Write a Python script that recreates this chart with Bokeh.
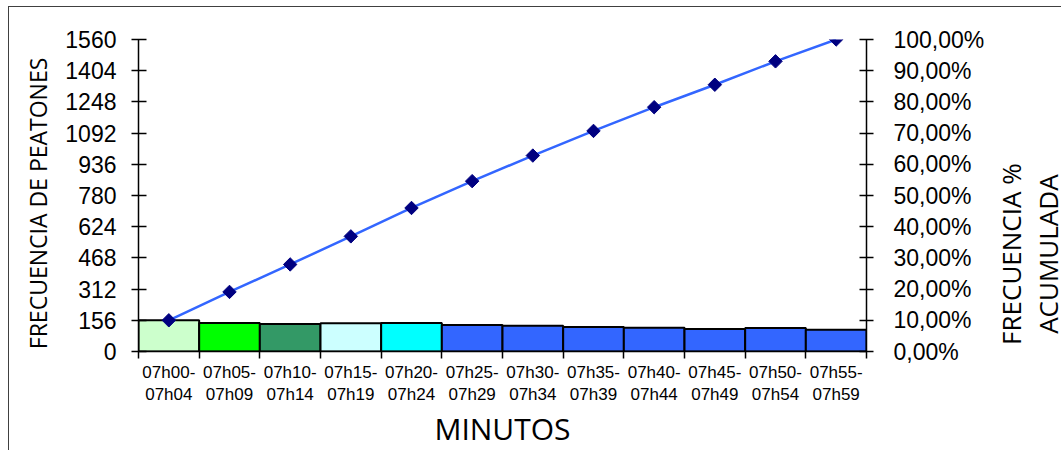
import math
import numpy as np
from bokeh.plotting import figure
from bokeh.layouts import row
from bokeh.models import Range1d, LinearAxis, FixedTicker
from bokeh.core.properties import value
from bokeh.embed import file_html
from bokeh.resources import INLINE

categories = ["07h00-\n07h04", "07h05-\n07h09", "07h10-\n07h14", "07h15-\n07h19",
              "07h20-\n07h24", "07h25-\n07h29", "07h30-\n07h34", "07h35-\n07h39",
              "07h40-\n07h44", "07h45-\n07h49", "07h50-\n07h54", "07h55-\n07h59"]
frecuencia = [156, 142, 137, 141, 142, 133, 129, 123, 119, 112, 117, 109]
acumulada_pct = [10.0, 19.1, 27.9, 36.9, 46.0, 54.6, 62.8, 70.7, 78.3, 85.5, 93.0, 100.0]
bar_colors = ["#CCFFCC", "#00FF00", "#339966", "#CCFFFF", "#00FFFF", "#3366FF",
              "#3366FF", "#3366FF", "#3366FF", "#3366FF", "#3366FF", "#3366FF"]
left_ticks = [0, 156, 312, 468, 624, 780, 936, 1092, 1248, 1404, 1560]
right_ticks = [0, 10, 20, 30, 40, 50, 60, 70, 80, 90, 100]
right_labels = ["0,00%", "10,00%", "20,00%", "30,00%", "40,00%", "50,00%",
                "60,00%", "70,00%", "80,00%", "90,00%", "100,00%"]
left_title = "FRECUENCIA DE PEATONES"
right_title = ["FRECUENCIA %", "ACUMULADA"]
x_title = "MINUTOS"

n = len(categories)
xc = np.arange(n) + 0.5
H = 443
TOP, FH, BOT = 32, 312, 99

tick_font = "Liberation Sans"
title_font = "Open Sans"

p = figure(width=945, height=H, output_backend="svg", toolbar_location=None,
           x_range=Range1d(0, n), y_range=Range1d(0, 1560),
           min_border_left=83, min_border_top=TOP, min_border_right=134, min_border_bottom=BOT,
           frame_width=728, frame_height=FH)
p.outline_line_color = None
p.background_fill_color = "white"
p.border_fill_color = "white"
p.xgrid.visible = False
p.ygrid.ticker = FixedTicker(ticks=[1560])
p.ygrid.grid_line_color = "#808080"
p.ygrid.grid_line_width = 2

p.extra_y_ranges = {"pct": Range1d(0, 100)}

p.vbar(x=xc, top=frecuencia, width=1.0, fill_color=bar_colors,
       line_color="black", line_width=2)
p.line(x=xc, y=acumulada_pct, y_range_name="pct", line_color="#3366FF", line_width=2.5)
p.scatter(x=xc, y=acumulada_pct, y_range_name="pct", marker="square", angle=math.pi / 4,
          size=9.5, fill_color="#000080", line_color="#000080")

# x axis: ticks at boundaries (no labels), labels at centers on a second axis
xa = p.xaxis[0]
xa.ticker = FixedTicker(ticks=list(range(n + 1)))
xa.major_label_overrides = {i: " " for i in range(n + 1)}
xa.major_label_text_font_size = "1px"
xa.major_label_standoff = 0
xa.major_tick_out = 7
xa.major_tick_in = 0
xa.minor_tick_line_color = None
xa.axis_line_color = "black"
xa.axis_line_width = 1.5
xa.major_tick_line_width = 1.5

xl = LinearAxis(ticker=FixedTicker(ticks=list(xc)),
                major_label_overrides={float(v): c for v, c in zip(xc, categories)})
xl.axis_line_color = None
xl.major_tick_line_color = None
xl.minor_tick_line_color = None
xl.major_tick_out = 0
xl.major_tick_in = 0
xl.major_label_text_font = tick_font
xl.major_label_text_font_size = "17px"
xl.major_label_text_color = "black"
xl.major_label_standoff = 0
xl.axis_label = x_title
xl.axis_label_text_font = title_font
xl.axis_label_text_font_style = "normal"
xl.axis_label_text_font_size = "30px"
xl.axis_label_text_color = "black"
xl.axis_label_standoff = 1
p.add_layout(xl, "below")

ya = p.yaxis[0]
ya.ticker = FixedTicker(ticks=left_ticks)
ya.major_label_text_font = tick_font
ya.major_label_text_font_size = "23px"
ya.major_label_text_color = "black"
ya.major_tick_out = 7
ya.major_tick_in = 8
ya.minor_tick_line_color = None
ya.axis_line_width = 1.5
ya.major_tick_line_width = 1.5
ya.major_label_standoff = 15

yr = LinearAxis(y_range_name="pct", ticker=FixedTicker(ticks=right_ticks),
                major_label_overrides={float(t): s for t, s in zip(right_ticks, right_labels)})
yr.major_label_text_font = tick_font
yr.major_label_text_font_size = "23px"
yr.major_label_text_color = "black"
yr.major_tick_out = 7
yr.major_tick_in = 7
yr.minor_tick_line_color = None
yr.axis_line_width = 1.5
yr.major_tick_line_width = 1.5
yr.major_label_standoff = 20
p.add_layout(yr, "right")


def side_panel(w):
    # frame matches the main plot's frame (row layouts align frames); y unit = 1 px
    f = figure(width=w, height=H, output_backend="svg", toolbar_location=None,
               x_range=Range1d(0, w), y_range=Range1d(0, FH),
               min_border_left=0, min_border_right=0, min_border_top=TOP, min_border_bottom=BOT,
               x_axis_location=None, y_axis_location=None)
    f.outline_line_color = None
    f.grid.visible = False
    f.background_fill_color = "white"
    f.border_fill_color = "white"
    return f


pl = side_panel(46)
pl.text(x=[28], y=[147], text=[left_title], angle=math.pi / 2,
        text_align="center", text_baseline="middle",
        text_font=value(title_font), text_font_size="23px", text_color="black")

pr = side_panel(61)
pr.text(x=[10, 47], y=[96, 96], text=right_title, angle=math.pi / 2,
        text_align="center", text_baseline="middle",
        text_font=value(title_font), text_font_size="26px", text_color="black")

layout = row(pl, p, pr, spacing=0)
layout.styles = {"border-top": "1px solid #404040", "border-left": "1px solid #404040",
                 "margin-left": "8px", "margin-top": "6px"}

open("out.html", "w").write(file_html(layout, INLINE))
